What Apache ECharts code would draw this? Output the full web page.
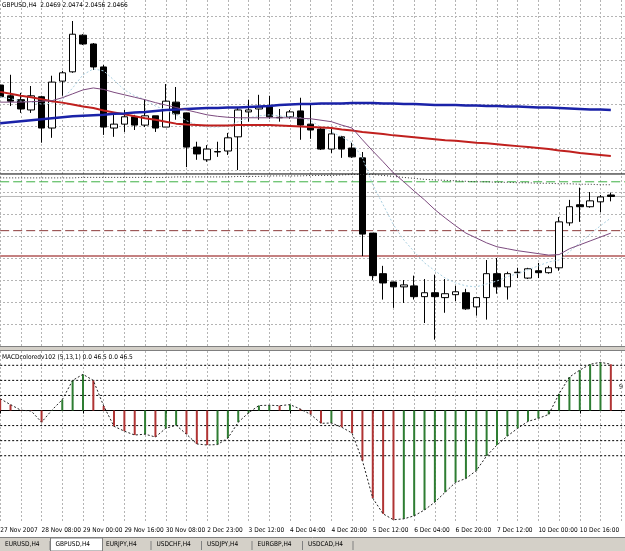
<!DOCTYPE html>
<html>
<head>
<meta charset="utf-8">
<script src="https://cdn.jsdelivr.net/npm/echarts@6/dist/echarts.min.js"></script>
<style>
  html, body { margin: 0; padding: 0; background: #fff; }
  #chart { width: 625px; height: 551px; }
</style>
</head>
<body>
<div id="chart"></div>
<script>
// H4 bars, GBPUSD
var times = ['27 Nov 16:00','27 Nov 20:00','28 Nov 00:00','28 Nov 04:00','28 Nov 08:00','28 Nov 12:00','28 Nov 16:00','28 Nov 20:00',
  '29 Nov 00:00','29 Nov 04:00','29 Nov 08:00','29 Nov 12:00','29 Nov 16:00','29 Nov 20:00','30 Nov 00:00','30 Nov 04:00',
  '30 Nov 08:00','30 Nov 12:00','30 Nov 16:00','30 Nov 20:00','2 Dec 23:00','3 Dec 00:00','3 Dec 04:00','3 Dec 08:00',
  '3 Dec 12:00','3 Dec 16:00','3 Dec 20:00','4 Dec 00:00','4 Dec 04:00','4 Dec 08:00','4 Dec 12:00','4 Dec 16:00',
  '4 Dec 20:00','5 Dec 00:00','5 Dec 04:00','5 Dec 08:00','5 Dec 12:00','5 Dec 16:00','5 Dec 20:00','6 Dec 00:00',
  '6 Dec 04:00','6 Dec 08:00','6 Dec 12:00','6 Dec 16:00','6 Dec 20:00','7 Dec 00:00','7 Dec 04:00','7 Dec 08:00',
  '7 Dec 12:00','7 Dec 16:00','7 Dec 20:00','9 Dec 23:00','10 Dec 00:00','10 Dec 04:00','10 Dec 08:00','10 Dec 12:00',
  '10 Dec 16:00','10 Dec 20:00','11 Dec 00:00','11 Dec 04:00','11 Dec 08:00','11 Dec 12:00'];

var opens  = [2.0694,2.0672,2.0664,2.0643,2.0670,2.0606,2.0702,2.0721,2.0796,2.0778,2.0731,2.0606,2.0614,2.0629,2.0612,2.0631,
  2.0608,2.0659,2.0637,2.0567,2.0541,2.0557,2.0559,2.0588,2.0639,2.0645,2.0649,2.0627,2.0629,2.0641,2.0614,2.0604,
  2.0563,2.0588,2.0565,2.0545,2.0391,2.0308,2.0291,2.0281,2.0283,2.0261,2.0269,2.0259,2.0265,2.0269,2.0240,2.0259,
  2.0308,2.0281,2.0310,2.0299,2.0314,2.0310,2.0320,2.0412,2.0449,2.0445,2.0455,2.0469];
var closes = [2.0670,2.0661,2.0645,2.0672,2.0606,2.0700,2.0719,2.0798,2.0778,2.0731,2.0608,2.0614,2.0629,2.0612,2.0631,2.0606,
  2.0661,2.0635,2.0567,2.0553,2.0563,2.0558,2.0586,2.0643,2.0643,2.0649,2.0629,2.0628,2.0639,2.0612,2.0602,2.0563,
  2.0594,2.0563,2.0547,2.0389,2.0304,2.0289,2.0281,2.0285,2.0261,2.0269,2.0261,2.0267,2.0271,2.0236,2.0259,2.0308,
  2.0281,2.0308,2.0311,2.0318,2.0310,2.0320,2.0414,2.0445,2.0445,2.0457,2.0465,2.0466];
var lows   = [2.0666,2.0651,2.0637,2.0637,2.0576,2.0586,2.0672,2.0719,2.0776,2.0725,2.0592,2.0588,2.0598,2.0602,2.0608,2.0598,
  2.0608,2.0623,2.0526,2.0541,2.0537,2.0547,2.0551,2.0520,2.0619,2.0623,2.0625,2.0619,2.0625,2.0582,2.0584,2.0561,
  2.0555,2.0545,2.0545,2.0344,2.0295,2.0255,2.0238,2.0248,2.0255,2.0207,2.0173,2.0228,2.0252,2.0234,2.0222,2.0214,
  2.0267,2.0255,2.0299,2.0297,2.0299,2.0308,2.0314,2.0406,2.0414,2.0443,2.0434,2.0456];
var highs  = [2.0713,2.0715,2.0678,2.0692,2.0672,2.0713,2.0723,2.0825,2.0798,2.0780,2.0735,2.0635,2.0643,2.0633,2.0664,2.0631,
  2.0696,2.0690,2.0637,2.0578,2.0571,2.0578,2.0596,2.0647,2.0664,2.0674,2.0672,2.0645,2.0643,2.0668,2.0657,2.0606,
  2.0606,2.0590,2.0576,2.0557,2.0391,2.0324,2.0291,2.0295,2.0304,2.0297,2.0306,2.0297,2.0283,2.0277,2.0259,2.0336,
  2.0340,2.0312,2.0320,2.0320,2.0330,2.0324,2.0424,2.0459,2.0484,2.0475,2.0469,2.0474];

// moving averages
var maBlue = [2.0616,2.0618,2.0620,2.0622,2.0624,2.0626,2.0628,2.0630,2.0631,2.0632,2.0633,2.0635,2.0636,2.0638,2.0639,2.0641,
  2.0643,2.0644,2.0645,2.0646,2.0647,2.0647,2.0648,2.0648,2.0649,2.0650,2.0651,2.0653,2.0654,2.0655,2.0655,2.0656,
  2.0656,2.0656,2.0657,2.0657,2.0657,2.0656,2.0656,2.0655,2.0655,2.0654,2.0653,2.0653,2.0653,2.0652,2.0652,2.0651,
  2.0651,2.0650,2.0650,2.0649,2.0648,2.0648,2.0647,2.0646,2.0645,2.0644,2.0644,2.0643];
var maRed = [2.0680,2.0676,2.0672,2.0669,2.0665,2.0661,2.0658,2.0654,2.0650,2.0647,2.0642,2.0638,2.0634,2.0630,2.0626,2.0623,
  2.0619,2.0615,2.0613,2.0612,2.0611,2.0611,2.0611,2.0612,2.0612,2.0612,2.0612,2.0611,2.0610,2.0609,2.0608,2.0607,
  2.0606,2.0603,2.0601,2.0598,2.0596,2.0594,2.0591,2.0589,2.0587,2.0585,2.0583,2.0581,2.0580,2.0578,2.0576,2.0575,
  2.0573,2.0571,2.0569,2.0567,2.0565,2.0563,2.0560,2.0558,2.0555,2.0553,2.0551,2.0549];
var maPurple = [2.0659,2.0659,2.0659,2.0660,2.0661,2.0662,2.0668,2.0676,2.0684,2.0688,2.0685,2.0679,2.0674,2.0669,2.0664,2.0658,
  2.0653,2.0648,2.0643,2.0638,2.0633,2.0630,2.0628,2.0627,2.0627,2.0627,2.0627,2.0627,2.0627,2.0626,2.0625,2.0622,
  2.0619,2.0612,2.0606,2.0582,2.0559,2.0537,2.0514,2.0496,2.0477,2.0459,2.0439,2.0422,2.0406,2.0391,2.0381,2.0371,
  2.0363,2.0359,2.0355,2.0352,2.0349,2.0346,2.0347,2.0359,2.0367,2.0375,2.0383,2.0391];
var maFast = [2.0670,2.0666,2.0661,2.0659,2.0655,2.0657,2.0664,2.0688,2.0715,2.0727,2.0723,2.0704,2.0684,2.0672,2.0664,2.0651,
  2.0643,2.0633,2.0621,2.0612,2.0608,2.0608,2.0610,2.0619,2.0627,2.0631,2.0633,2.0631,2.0629,2.0627,2.0621,2.0608,
  2.0598,2.0588,2.0576,2.0545,2.0490,2.0449,2.0408,2.0377,2.0353,2.0330,2.0314,2.0299,2.0289,2.0283,2.0281,2.0287,
  2.0293,2.0302,2.0308,2.0316,2.0324,2.0332,2.0336,2.0353,2.0371,2.0389,2.0406,2.0422];
var maSlow = [2.0504,2.0504,2.0504,2.0504,2.0504,2.0504,2.0504,2.0504,2.0505,2.0505,2.0505,2.0505,2.0505,2.0505,2.0505,2.0505,
  2.0505,2.0506,2.0506,2.0506,2.0506,2.0506,2.0506,2.0507,2.0507,2.0507,2.0508,2.0508,2.0508,2.0508,2.0509,2.0509,
  2.0509,2.0510,2.0511,2.0511,2.0511,2.0509,2.0507,2.0505,2.0503,2.0501,2.0500,2.0499,2.0498,2.0497,2.0496,2.0496,
  2.0495,2.0495,2.0494,2.0494,2.0493,2.0493,2.0492,2.0492,2.0491,2.0491,2.0490,2.0490];

// horizontal line objects
var levelBlack = 2.0512;
var levelGreen = 2.0496;
var levelBrownDash = 2.0396;
var levelBrown = 2.0344;
var bid = 2.0466;

// MACDcoloredv102 (5,13,1)
var macd = [7.8,3.9,0.2,-0.3,-7.8,0.3,7.2,20,24,20,3,-10.5,-13.7,-16.3,-15.7,-17.6,
  -11.8,-9.8,-15.7,-22.2,-22.9,-22.6,-18.3,-7.8,-1.5,3.3,3.5,3.2,3.9,1,-2.6,-8.5,
  -8.3,-11.1,-15,-33.3,-58.2,-68.6,-72.5,-71.9,-69.9,-66,-60.8,-54.2,-47.7,-45.1,-39.9,-30.1,
  -22.9,-17,-11.8,-7.2,-5.2,-2.6,11.1,22.2,26.8,30.7,32,30.7];
var macdLevels = [30, 20, 10, -10, -20, -30];

var tabs = ['EURUSD,H4','GBPUSD,H4','EURJPY,H4','USDCHF,H4','USDJPY,H4','EURGBP,H4','USDCAD,H4'];

var font = '"DejaVu Sans Condensed", "DejaVu Sans", sans-serif';
var chart = echarts.init(document.getElementById('chart'));

var candles = opens.map(function (o, i) { return [o, closes[i], lows[i], highs[i]]; });
var macdBars = macd.map(function (v, i) {
  var prev = i ? macd[i - 1] : Infinity;
  return { value: v, itemStyle: { color: v < prev ? '#b03434' : '#2e7d32' } };
});

var lastCat = times.length - 1;
// a horizontal level drawn across the whole pane
function level(value, color, type, width, axis) {
  return { type: 'line', xAxisIndex: axis, yAxisIndex: axis, data: [[0, value], [lastCat, value]],
    symbol: 'none', silent: true, z: 1, lineStyle: { color: color, type: type, width: width } };
}
function maLine(data, color, type, width) {
  return { type: 'line', data: data, symbol: 'none', silent: true, z: 3,
    lineStyle: { color: color, type: type, width: width } };
}
function every4(i) { return i % 4 === 0 && i < opens.length - 2; }

var gridLine = { color: '#b4b4b4', type: [2, 2], width: 1 };

var tabGraphics = [];
tabs.forEach(function (t, i) {
  var x = 2 + i * 50.5;
  if (i === 1) {
    tabGraphics.push({ type: 'rect', shape: { x: x - 2, y: 538, width: 52, height: 13 },
      style: { fill: '#fff', stroke: '#808080', lineWidth: 1 } });
  } else {
    tabGraphics.push({ type: 'line', shape: { x1: x + 48, y1: 541, x2: x + 48, y2: 550 },
      style: { stroke: '#808080' } });
  }
  tabGraphics.push({ type: 'text', x: x + 3, y: 541,
    style: { text: t, fill: '#000', font: '6.5px ' + font } });
});

var series = [
  level(levelBlack, '#000', 'solid', 1, 0),
  level(levelGreen, '#3cb043', [9, 4], 1, 0),
  level(bid, '#b8b8b8', 'solid', 1, 0),
  level(levelBrownDash, '#8b3a3a', [9, 4], 1, 0),
  level(levelBrown, '#c48080', 'solid', 2, 0),
  { type: 'candlestick', xAxisIndex: 0, yAxisIndex: 0, data: candles, barWidth: 7, z: 2,
    itemStyle: { color: '#fff', color0: '#000', borderColor: '#000', borderColor0: '#000', borderWidth: 1 } },
  maLine(maSlow, '#333', [1, 2], 1),
  maLine(maFast, '#a9cfe0', [2, 2], 1),
  maLine(maRed, '#c0201e', 'solid', 2),
  maLine(maBlue, '#1a22a8', 'solid', 2.5),
  maLine(maPurple, '#7c4a7e', 'solid', 1),
  { type: 'bar', xAxisIndex: 1, yAxisIndex: 1, data: macdBars, barWidth: 2, silent: true, z: 2 },
  { type: 'line', xAxisIndex: 1, yAxisIndex: 1, data: macd, symbol: 'none', silent: true, z: 3,
    lineStyle: { color: '#222', width: 1, type: [2, 2] } }
].concat(macdLevels.map(function (v) { return level(v, '#000', [2, 2], 1, 1); }));

var option = {
  animation: false,
  backgroundColor: '#fff',
  title: [
    { text: 'GBPUSD,H4  2.0469 2.0474 2.0456 2.0466', left: 2, top: 2, padding: 0,
      textStyle: { fontSize: 6.5, fontWeight: 'normal', color: '#000', fontFamily: font } },
    { text: 'MACDcoloredv102 (5,13,1) 0.0 46.5 0.0 46.5', left: 2, top: 354, padding: 0,
      textStyle: { fontSize: 6.5, fontWeight: 'normal', color: '#000', fontFamily: font } }
  ],
  grid: [
    { left: -5, top: 0, width: 641.7, height: 346, outerBoundsMode: 'none', containLabel: false },
    { left: -5, top: 351, width: 641.7, height: 171, outerBoundsMode: 'none', containLabel: false }
  ],
  xAxis: [
    { type: 'category', gridIndex: 0, data: times, boundaryGap: true,
      axisLine: { show: false }, axisTick: { show: false }, axisLabel: { show: false },
      splitLine: { show: true, interval: 1, alignWithLabel: true, lineStyle: gridLine } },
    { type: 'category', gridIndex: 1, data: times, boundaryGap: true,
      axisLine: { show: true, lineStyle: { color: '#000', width: 1 } },
      axisTick: { show: true, alignWithLabel: true, interval: every4, length: 3, lineStyle: { color: '#000' } },
      axisLabel: { show: true, interval: every4, align: 'left', margin: 5, fontSize: 6.5, color: '#000', fontFamily: font,
        formatter: function (v, i) { return i === 0 ? '27 Nov 2007' : v; } },
      splitLine: { show: true, interval: 1, alignWithLabel: true, lineStyle: gridLine } }
  ],
  yAxis: [
    { type: 'value', gridIndex: 0, min: 2.0160, max: 2.0868, interval: 0.0045,
      axisLine: { show: false }, axisTick: { show: false }, axisLabel: { show: false },
      splitLine: { show: true, showMinLine: false, showMaxLine: false, lineStyle: gridLine } },
    { type: 'value', gridIndex: 1, min: -74, max: 39.5,
      axisLine: { show: false }, axisTick: { show: false }, axisLabel: { show: false },
      splitLine: { show: false } }
  ],
  series: series,
  graphic: [
    { type: 'rect', shape: { x: 0, y: 346, width: 625, height: 5 }, style: { fill: '#d4d0c8' } },
    { type: 'line', shape: { x1: 0, y1: 346.5, x2: 625, y2: 346.5 }, style: { stroke: '#808080' } },
    { type: 'line', shape: { x1: 0, y1: 350.5, x2: 625, y2: 350.5 }, style: { stroke: '#808080' } },
    { type: 'text', x: 619, y: 384, style: { text: '9', fill: '#000', font: '7px ' + font } },
    { type: 'rect', shape: { x: 0, y: 538, width: 625, height: 13 }, style: { fill: '#d4d0c8' } },
    { type: 'line', shape: { x1: 0, y1: 537.5, x2: 625, y2: 537.5 }, style: { stroke: '#808080' } }
  ].concat(tabGraphics)
};

chart.setOption(option);
</script>
</body>
</html>
